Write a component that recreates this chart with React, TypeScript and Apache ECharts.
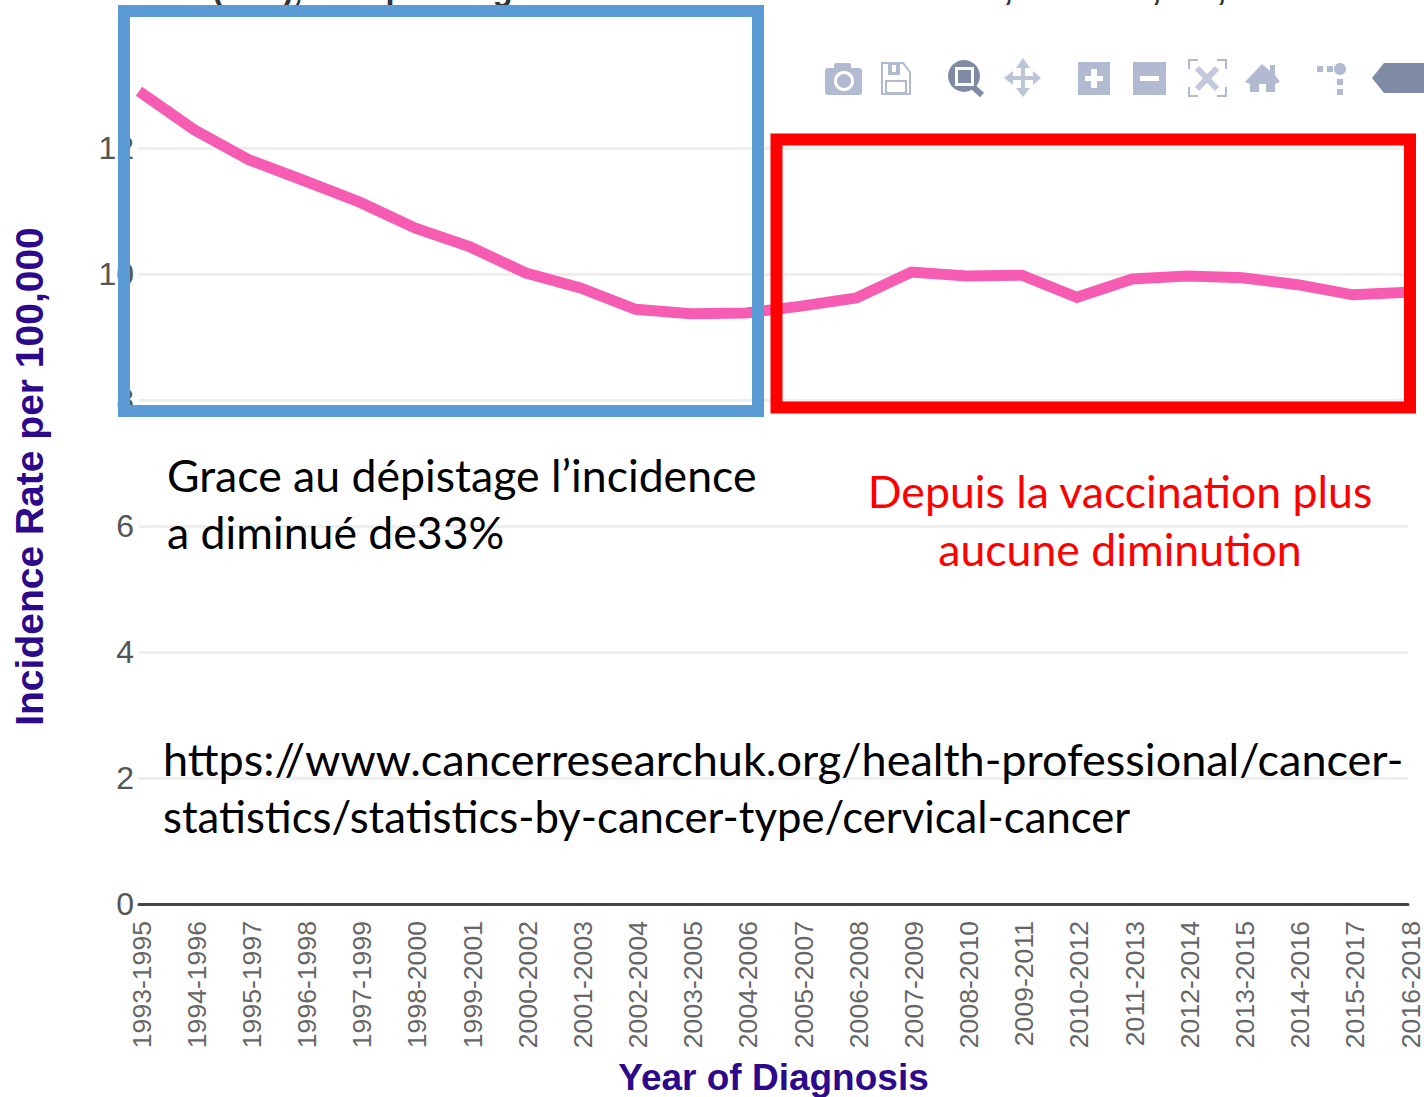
import React, { useEffect, useRef } from "react";
import * as echarts from "echarts";

const periods = ["1993-1995","1994-1996","1995-1997","1996-1998","1997-1999","1998-2000","1999-2001","2000-2002","2001-2003","2002-2004","2003-2005","2004-2006","2005-2007","2006-2008","2007-2009","2008-2010","2009-2011","2010-2012","2011-2013","2012-2014","2013-2015","2014-2016","2015-2017","2016-2018"];
const incidence = [12.9,12.29,11.81,11.48,11.14,10.73,10.43,10.02,9.78,9.44,9.37,9.38,9.49,9.62,10.03,9.97,9.98,9.63,9.92,9.97,9.94,9.83,9.67,9.71];
const titleText = "Cancer (C53), European Age-Standardised Incidence Rates, Females, UK, 1993 to 2018";
const yTitle = "Incidence Rate per 100,000";
const xTitle = "Year of Diagnosis";
const noteLeft = "Grace au dépistage l’incidence\na diminué de33%";
const noteRight = "Depuis la vaccination plus\naucune diminution";
const noteSource1 = "https://www.cancerresearchuk.org/health-professional/cancer-";
const noteSource2 = "statistics/statistics-by-cancer-type/cervical-cancer";

const LIGHT = "#b1bad0";
const DARK = "#7f8aa5";
const fill = (c: string) => ({ fill: c });
const toolbar: any[] = [
  // camera
  { type: "rect", shape: { x: 825, y: 68, width: 37, height: 27, r: 3 }, style: fill(LIGHT) },
  { type: "rect", shape: { x: 834, y: 63, width: 17, height: 8, r: 2 }, style: fill(LIGHT) },
  { type: "circle", shape: { cx: 844, cy: 81, r: 8.5 }, style: { fill: LIGHT, stroke: "#fff", lineWidth: 3 } },
  // floppy
  { type: "polygon", shape: { points: [[882,63],[903,63],[910,72],[910,94],[882,94]] }, style: { fill: "#fff", stroke: LIGHT, lineWidth: 2 } },
  { type: "rect", shape: { x: 888, y: 64, width: 12, height: 11 }, style: fill(LIGHT) },
  { type: "rect", shape: { x: 892, y: 65, width: 4, height: 7 }, style: fill("#fff") },
  { type: "rect", shape: { x: 886, y: 81, width: 20, height: 12 }, style: { fill: "#fff", stroke: LIGHT, lineWidth: 2 } },
  // zoom
  { type: "line", shape: { x1: 972, y1: 86, x2: 982, y2: 95 }, style: { stroke: DARK, lineWidth: 6 } },
  { type: "circle", shape: { cx: 964, cy: 76, r: 16 }, style: fill(DARK) },
  { type: "rect", shape: { x: 955, y: 67, width: 19, height: 19 }, style: fill("#fff") },
  { type: "rect", shape: { x: 958, y: 70, width: 13, height: 13 }, style: fill(DARK) },
  // pan
  { type: "polygon", shape: { points: [[1023,58],[1030,68],[1025,68],[1025,76],[1033,76],[1033,71],[1041,78],[1033,85],[1033,80],[1025,80],[1025,88],[1030,88],[1023,97],[1016,88],[1021,88],[1021,80],[1013,80],[1013,85],[1004,78],[1013,71],[1013,76],[1021,76],[1021,68],[1016,68]] }, style: fill("#bcc4d8") },
  // plus
  { type: "rect", shape: { x: 1078, y: 62, width: 32, height: 33 }, style: fill(LIGHT) },
  { type: "rect", shape: { x: 1085, y: 76, width: 18, height: 5 }, style: fill("#fff") },
  { type: "rect", shape: { x: 1091, y: 69, width: 6, height: 19 }, style: fill("#fff") },
  // minus
  { type: "rect", shape: { x: 1133, y: 62, width: 33, height: 33 }, style: fill(LIGHT) },
  { type: "rect", shape: { x: 1140, y: 76, width: 19, height: 5 }, style: fill("#fff") },
  // autoscale
  { type: "polyline", shape: { points: [[1189,69],[1189,60],[1198,60]] }, style: { stroke: LIGHT, lineWidth: 2, fill: "none" } },
  { type: "polyline", shape: { points: [[1217,60],[1226,60],[1226,69]] }, style: { stroke: LIGHT, lineWidth: 2, fill: "none" } },
  { type: "polyline", shape: { points: [[1189,87],[1189,96],[1198,96]] }, style: { stroke: LIGHT, lineWidth: 2, fill: "none" } },
  { type: "polyline", shape: { points: [[1217,96],[1226,96],[1226,87]] }, style: { stroke: LIGHT, lineWidth: 2, fill: "none" } },
  { type: "line", shape: { x1: 1197, y1: 68, x2: 1217, y2: 89 }, style: { stroke: "#c2c9db", lineWidth: 6 } },
  { type: "line", shape: { x1: 1217, y1: 68, x2: 1197, y2: 89 }, style: { stroke: "#c2c9db", lineWidth: 6 } },
  // home
  { type: "polygon", shape: { points: [[1262,64],[1270,71],[1270,65],[1275,65],[1275,75],[1280,82],[1275,84],[1275,92],[1266,92],[1266,84],[1259,84],[1259,92],[1250,92],[1250,84],[1245,82]] }, style: fill(LIGHT) },
  // spike lines
  { type: "rect", shape: { x: 1317, y: 66, width: 6, height: 6 }, style: fill(LIGHT) },
  { type: "rect", shape: { x: 1327, y: 66, width: 6, height: 6 }, style: fill(LIGHT) },
  { type: "circle", shape: { cx: 1340, cy: 69, r: 6 }, style: fill(LIGHT) },
  { type: "rect", shape: { x: 1337, y: 79, width: 6, height: 6 }, style: fill(LIGHT) },
  { type: "rect", shape: { x: 1337, y: 89, width: 6, height: 6 }, style: fill(LIGHT) },
  // collapse tab
  { type: "polygon", shape: { points: [[1372,78],[1384,63],[1424,63],[1424,93],[1384,93]] }, style: fill(DARK) },
];

const note = (text: string, x: number, y: number, color: string, textAlign: string, fontSize: number, lineHeight: number) => ({
  type: "text", x, y, z: 30,
  style: { text, fill: color, fontSize, fontFamily: "Lato", textAlign, textVerticalAlign: "top", lineHeight },
});

export default function App() {
  const ref = useRef<HTMLDivElement>(null);
  useEffect(() => {
    document.body.style.margin = "0";
    const chart = echarts.init(ref.current!, undefined, { renderer: "svg" });
    chart.setOption({
      animation: false,
      backgroundColor: "#fff",
      grid: { left: 139, right: 16, top: 85, bottom: 193, containLabel: false, outerBoundsMode: "none" },
      xAxis: {
        type: "category", data: periods, boundaryGap: false,
        axisLine: { lineStyle: { color: "#444", width: 3 } },
        axisTick: { show: false },
        axisLabel: { rotate: 90, interval: 0, fontFamily: "Liberation Sans", fontSize: 26.6, color: "#666", margin: 17, verticalAlign: "top", lineHeight: 5, showMaxLabel: true },
        name: xTitle, nameLocation: "middle", nameGap: 155,
        nameTextStyle: { fontFamily: "Liberation Sans", fontWeight: "bold", fontSize: 37, color: "#2d0a8c" },
      },
      yAxis: {
        type: "value", min: 0, max: 13, interval: 2,
        axisLine: { show: false }, axisTick: { show: false },
        axisLabel: { fontFamily: "Liberation Sans", fontSize: 32, color: "#555", margin: 5, showMaxLabel: false },
        splitLine: { lineStyle: { color: "#eeeeee", width: 3 }, showMaxLine: false },
        name: yTitle, nameLocation: "middle", nameGap: 90,
        nameTextStyle: { fontFamily: "Liberation Sans", fontWeight: "bold", fontSize: 39, color: "#2d0a8c", padding: [0, 0, 0, 36] },
      },
      series: [{ type: "line", data: incidence, symbol: "none", smooth: false, z: 5, lineStyle: { color: "#f55cb2", width: 11, join: "miter" } }],
      graphic: [
        { type: "text", x: 93, y: -28, z: 1, style: { text: titleText, fontFamily: "Liberation Sans", fontWeight: "bold", fontSize: 32.5, fill: "#333" } },
        ...toolbar.map((g) => ({ ...g, z: 20 })),
        { type: "rect", z: 25, shape: { x: 124, y: 11, width: 634, height: 400 }, style: { fill: "none", stroke: "#5b9bd5", lineWidth: 12 } },
        { type: "rect", z: 25, shape: { x: 776.5, y: 139.5, width: 633.5, height: 268 }, style: { fill: "none", stroke: "#ff0000", lineWidth: 12 } },
        note(noteLeft, 167, 446, "#000", "left", 44.6, 57),
        note(noteRight, 1120, 461, "#ff0000", "center", 44.6, 58),
        note(noteSource1, 163, 730, "#000", "left", 45, 57),
        note(noteSource2, 163, 787, "#000", "left", 43.7, 57),
      ],
    });
    return () => chart.dispose();
  }, []);
  return <div ref={ref} style={{ width: 1424, height: 1097 }} />;
}
